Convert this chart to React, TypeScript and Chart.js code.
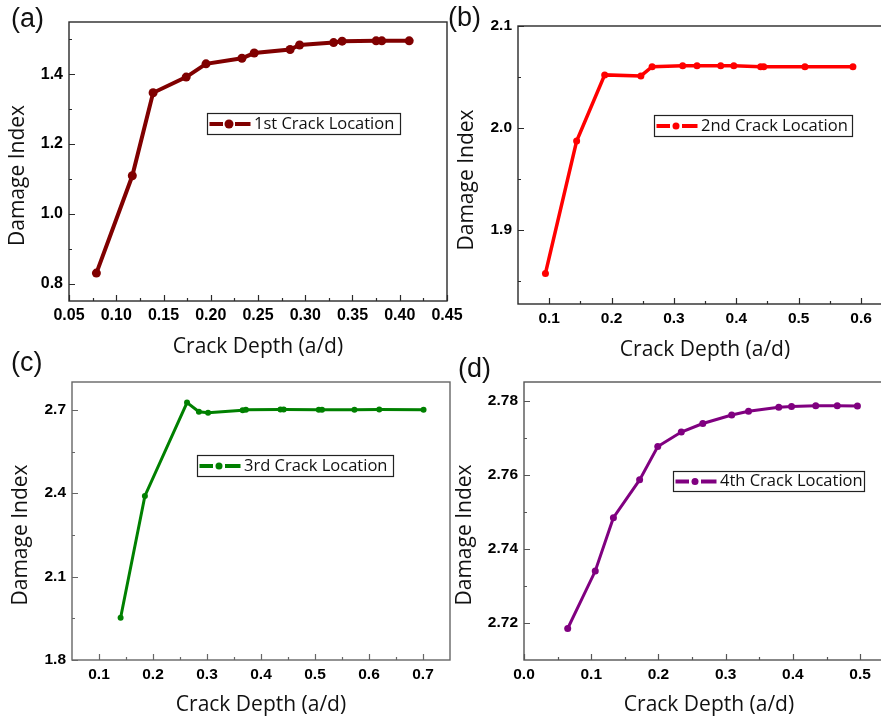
import React, { useEffect, useRef } from "react";
import { Chart, registerables } from "chart.js";

Chart.register(...registerables);

// ---------- DATA ----------
// (a) 1st crack location
const A_X = [0.079, 0.117, 0.139, 0.174, 0.195, 0.233, 0.246, 0.284, 0.294, 0.330, 0.339, 0.375, 0.381, 0.410];
const A_Y = [0.830, 1.109, 1.347, 1.392, 1.430, 1.446, 1.461, 1.471, 1.484, 1.491, 1.495, 1.496, 1.496, 1.496];
const A_X_TICKS = [0.05, 0.10, 0.15, 0.20, 0.25, 0.30, 0.35, 0.40, 0.45];
const A_X_MINOR = [0.075, 0.125, 0.175, 0.225, 0.275, 0.325, 0.375, 0.425];
const A_Y_TICKS = [0.8, 1.0, 1.2, 1.4];
const A_Y_MINOR = [0.9, 1.1, 1.3, 1.5];

// (b) 2nd crack location
const B_X = [0.094, 0.144, 0.189, 0.247, 0.265, 0.314, 0.337, 0.375, 0.396, 0.439, 0.444, 0.510, 0.587];
const B_Y = [1.857, 1.987, 2.052, 2.051, 2.060, 2.061, 2.061, 2.061, 2.061, 2.060, 2.060, 2.060, 2.060];
const B_X_TICKS = [0.1, 0.2, 0.3, 0.4, 0.5, 0.6];
const B_X_MINOR = [0.15, 0.25, 0.35, 0.45, 0.55];
const B_Y_TICKS = [1.9, 2.0, 2.1];
const B_Y_MINOR = [1.85, 1.95, 2.05];

// (c) 3rd crack location
const C_X = [0.140, 0.185, 0.263, 0.285, 0.302, 0.366, 0.372, 0.436, 0.442, 0.507, 0.513, 0.573, 0.619, 0.701];
const C_Y = [1.952, 2.390, 2.726, 2.693, 2.689, 2.698, 2.700, 2.701, 2.701, 2.700, 2.700, 2.700, 2.701, 2.700];
const C_X_TICKS = [0.1, 0.2, 0.3, 0.4, 0.5, 0.6, 0.7];
const C_X_MINOR = [0.15, 0.25, 0.35, 0.45, 0.55, 0.65];
const C_Y_TICKS = [1.8, 2.1, 2.4, 2.7];
const C_Y_MINOR = [1.95, 2.25, 2.55];

// (d) 4th crack location
const D_X = [0.065, 0.106, 0.133, 0.172, 0.199, 0.234, 0.266, 0.309, 0.334, 0.379, 0.398, 0.434, 0.466, 0.496];
const D_Y = [2.7185, 2.7340, 2.7484, 2.7586, 2.7676, 2.7715, 2.7738, 2.7761, 2.7771, 2.7782, 2.7784, 2.7786, 2.7786, 2.7785];
const D_X_TICKS = [0.0, 0.1, 0.2, 0.3, 0.4, 0.5];
const D_X_MINOR = [0.05, 0.15, 0.25, 0.35, 0.45];
const D_Y_TICKS = [2.72, 2.74, 2.76, 2.78];
const D_Y_MINOR = [2.73, 2.75, 2.77];

const X_TITLE = "Crack Depth (a/d)";
const Y_TITLE = "Damage Index";

// ---------- LAYOUT ----------
const CW = 900;
const CH = 720;
const YW = 42;
const XH = 30;

type Spec = {
  name: string;
  xs: number[];
  ys: number[];
  color: string;
  lineWidth: number;
  pointRadius: number;
  xMin: number; xMax: number; yMin: number; yMax: number;
  xTicks: number[]; xMinor: number[]; yTicks: number[]; yMinor: number[];
  xDec: number; yDec: number;
  tickFont: number;
  area: { l: number; t: number; r: number; b: number };
  frameColor: string;
  xTitlePos: [number, number];
  yTitlePos: [number, number];
  legend: { x: number; y: number; w: number; h: number };
};

const SPECS: Spec[] = [
  {
    name: "1st Crack Location", xs: A_X, ys: A_Y, color: "#800000", lineWidth: 4, pointRadius: 4.5,
    xMin: 0.05, xMax: 0.45, yMin: 0.75, yMax: 1.55,
    xTicks: A_X_TICKS, xMinor: A_X_MINOR, yTicks: A_Y_TICKS, yMinor: A_Y_MINOR,
    xDec: 2, yDec: 1, tickFont: 16,
    area: { l: 69, t: 22, r: 447, b: 301 }, frameColor: "#2a2a2a",
    xTitlePos: [258, 347], yTitlePos: [18.5, 175.5],
    legend: { x: 207, y: 113, w: 193, h: 21 },
  },
  {
    name: "2nd Crack Location", xs: B_X, ys: B_Y, color: "#ff0000", lineWidth: 3.5, pointRadius: 3.5,
    xMin: 0.05, xMax: 0.64, yMin: 1.827, yMax: 2.1,
    xTicks: B_X_TICKS, xMinor: B_X_MINOR, yTicks: B_Y_TICKS, yMinor: B_Y_MINOR,
    xDec: 1, yDec: 1, tickFont: 15.5,
    area: { l: 518, t: 26, r: 886, b: 304 }, frameColor: "#2a2a2a",
    xTitlePos: [705, 350], yTitlePos: [467.5, 180],
    legend: { x: 654, y: 115, w: 198, h: 21 },
  },
  {
    name: "3rd Crack Location", xs: C_X, ys: C_Y, color: "#008000", lineWidth: 3, pointRadius: 3,
    xMin: 0.05, xMax: 0.75, yMin: 1.8, yMax: 2.8,
    xTicks: C_X_TICKS, xMinor: C_X_MINOR, yTicks: C_Y_TICKS, yMinor: C_Y_MINOR,
    xDec: 1, yDec: 1, tickFont: 15.5,
    area: { l: 72, t: 382, r: 450, b: 660 }, frameColor: "#666666",
    xTitlePos: [261, 705], yTitlePos: [21.5, 535],
    legend: { x: 197, y: 455, w: 196, h: 21 },
  },
  {
    name: "4th Crack Location", xs: D_X, ys: D_Y, color: "#800080", lineWidth: 3, pointRadius: 3.5,
    xMin: 0.0, xMax: 0.54, yMin: 2.71, yMax: 2.785,
    xTicks: D_X_TICKS, xMinor: D_X_MINOR, yTicks: D_Y_TICKS, yMinor: D_Y_MINOR,
    xDec: 1, yDec: 2, tickFont: 15.5,
    area: { l: 524, t: 382, r: 887, b: 660 }, frameColor: "#555555",
    xTitlePos: [709, 705], yTitlePos: [465.5, 535],
    legend: { x: 673, y: 471, w: 191, h: 20 },
  },
];

const PANEL_LABELS = [
  { text: "(a)", left: 11, top: 5 },
  { text: "(b)", left: 448, top: 4 },
  { text: "(c)", left: 11, top: 349 },
  { text: "(d)", left: 458, top: 355 },
];

function makePlugin(spec: Spec) {
  return {
    id: "decor",
    afterDraw(chart: any) {
      const { ctx, chartArea: a, scales } = chart;
      const x = scales.x;
      const y = scales.y;
      ctx.save();
      // frame
      ctx.strokeStyle = spec.frameColor;
      ctx.lineWidth = 1.4;
      ctx.strokeRect(a.left, a.top, a.right - a.left, a.bottom - a.top);
      // inward ticks
      ctx.beginPath();
      for (const v of spec.xTicks) {
        const px = Math.round(x.getPixelForValue(v)) + 0.5;
        ctx.moveTo(px, a.bottom);
        ctx.lineTo(px, a.bottom - 6);
      }
      for (const v of spec.xMinor) {
        const px = Math.round(x.getPixelForValue(v)) + 0.5;
        ctx.moveTo(px, a.bottom);
        ctx.lineTo(px, a.bottom - 3);
      }
      for (const v of spec.yTicks) {
        const py = Math.round(y.getPixelForValue(v)) + 0.5;
        ctx.moveTo(a.left, py);
        ctx.lineTo(a.left + 6, py);
      }
      for (const v of spec.yMinor) {
        const py = Math.round(y.getPixelForValue(v)) + 0.5;
        ctx.moveTo(a.left, py);
        ctx.lineTo(a.left + 3, py);
      }
      ctx.lineWidth = 1.2;
      ctx.stroke();

      // axis titles
      ctx.fillStyle = "#111";
      ctx.font = '21px "Open Sans"';
      ctx.textAlign = "center";
      ctx.textBaseline = "middle";
      ctx.fillText(X_TITLE, spec.xTitlePos[0], spec.xTitlePos[1]);
      ctx.save();
      ctx.translate(spec.yTitlePos[0], spec.yTitlePos[1]);
      ctx.rotate(-Math.PI / 2);
      ctx.fillText(Y_TITLE, 0, 0);
      ctx.restore();

      // legend box
      const L = spec.legend;
      ctx.fillStyle = "#ffffff";
      ctx.fillRect(L.x, L.y, L.w, L.h);
      ctx.strokeStyle = "#222";
      ctx.lineWidth = 1.2;
      ctx.strokeRect(L.x + 0.5, L.y + 0.5, L.w, L.h);
      const cy = L.y + L.h / 2 + 0.5;
      ctx.strokeStyle = spec.color;
      ctx.lineWidth = 4;
      ctx.beginPath();
      ctx.moveTo(L.x + 2.5, cy);
      ctx.lineTo(L.x + 16, cy);
      ctx.moveTo(L.x + 28, cy);
      ctx.lineTo(L.x + 43.5, cy);
      ctx.stroke();
      ctx.fillStyle = spec.color;
      ctx.beginPath();
      ctx.arc(L.x + 22, cy, Math.max(spec.pointRadius, 3.5), 0, Math.PI * 2);
      ctx.fill();
      ctx.fillStyle = "#111";
      ctx.font = '16.5px "Open Sans"';
      ctx.textAlign = "left";
      ctx.textBaseline = "middle";
      ctx.fillText(spec.name, L.x + 47, cy);
      ctx.restore();
    },
  };
}

function Panel({ spec }: { spec: Spec }) {
  const ref = useRef<HTMLCanvasElement>(null);
  useEffect(() => {
    const a = spec.area;
    const tickFont = { family: '"Liberation Sans"', weight: 700, size: spec.tickFont };
    const chart = new Chart(ref.current as HTMLCanvasElement, {
      type: "line",
      data: {
        datasets: [
          {
            label: spec.name,
            data: spec.xs.map((xv, i) => ({ x: xv, y: spec.ys[i] })),
            borderColor: spec.color,
            backgroundColor: spec.color,
            borderWidth: spec.lineWidth,
            pointRadius: spec.pointRadius,
            pointBackgroundColor: spec.color,
            pointBorderColor: spec.color,
            pointBorderWidth: 0,
            tension: 0,
            fill: false,
          },
        ],
      },
      options: {
        animation: false,
        responsive: false,
        devicePixelRatio: 1,
        events: [],
        layout: {
          padding: {
            left: a.l - YW,
            top: a.t,
            right: CW - a.r,
            bottom: CH - a.b - XH,
          },
        },
        plugins: {
          legend: { display: false },
          tooltip: { enabled: false },
        },
        scales: {
          x: {
            type: "linear",
            min: spec.xMin,
            max: spec.xMax,
            afterBuildTicks: (s: any) => {
              s.ticks = spec.xTicks.map((v) => ({ value: v }));
            },
            afterFit: (s: any) => {
              s.height = XH;
            },
            grid: { display: false, drawTicks: false },
            border: { display: false },
            ticks: {
              autoSkip: false,
              maxRotation: 0,
              padding: 5,
              color: "#000",
              font: tickFont,
              callback: (v: any) => Number(v).toFixed(spec.xDec),
            },
          },
          y: {
            type: "linear",
            min: spec.yMin,
            max: spec.yMax,
            afterBuildTicks: (s: any) => {
              s.ticks = spec.yTicks.map((v) => ({ value: v }));
            },
            afterFit: (s: any) => {
              s.width = YW;
            },
            grid: { display: false, drawTicks: false },
            border: { display: false },
            ticks: {
              autoSkip: false,
              padding: 6,
              color: "#000",
              font: tickFont,
              callback: (v: any) => Number(v).toFixed(spec.yDec),
            },
          },
        },
      },
      plugins: [makePlugin(spec)],
    } as any);
    return () => chart.destroy();
  }, [spec]);
  return (
    <canvas
      ref={ref}
      width={CW}
      height={CH}
      style={{ position: "absolute", left: 0, top: 0, width: CW, height: CH }}
    />
  );
}

export default function App() {
  return (
    <div
      style={{
        position: "absolute",
        left: 0,
        top: 0,
        width: 881,
        height: 720,
        overflow: "hidden",
        background: "#ffffff",
      }}
    >
      {SPECS.map((s) => (
        <Panel key={s.name} spec={s} />
      ))}
      {PANEL_LABELS.map((p) => (
        <div
          key={p.text}
          style={{
            position: "absolute",
            left: p.left,
            top: p.top,
            fontFamily: '"Liberation Sans", Arial, sans-serif',
            fontSize: 27,
            lineHeight: "27px",
            color: "#111",
            whiteSpace: "nowrap",
          }}
        >
          {p.text}
        </div>
      ))}
    </div>
  );
}
